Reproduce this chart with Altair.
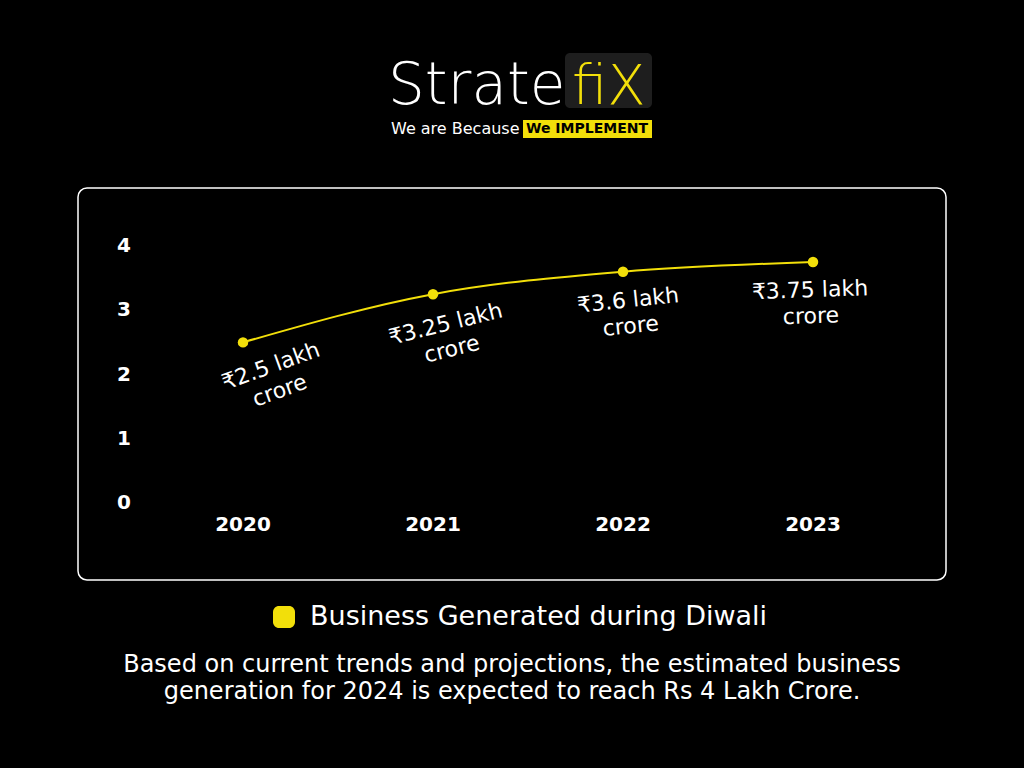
import altair as alt
import pandas as pd

years = [2020, 2021, 2022, 2023]
values = [2.5, 3.25, 3.6, 3.75]
labels = ["₹2.5 lakh\ncrore", "₹3.25 lakh\ncrore", "₹3.6 lakh\ncrore", "₹3.75 lakh\ncrore"]
y_ticks = [0, 1, 2, 3, 4]
series_name = "Business Generated during Diwali"
footer = ["Based on current trends and projections, the estimated business",
          "generation for 2024 is expected to reach Rs 4 Lakh Crore."]

YELLOW = "#f2df0a"
FONT = "DejaVu Sans"

df = pd.DataFrame({"year": years, "value": values, "label": labels})
ticks_df = pd.DataFrame({"value": y_ticks})
years_df = pd.DataFrame({"year": years})

xs = alt.Scale(domain=[2020, 2023], range=[243, 813], nice=False, zero=False)
ys = alt.Scale(domain=[0, 4], range=[503, 246], nice=False)
X = alt.X("year:Q", scale=xs, axis=None)
Y = alt.Y("value:Q", scale=ys, axis=None)

one = alt.Data(values=[{}])

frame = alt.Chart(one).mark_rect(fill=None, stroke="white", strokeWidth=1.5, cornerRadius=9).encode(
    x=alt.value(78), x2=alt.value(946), y=alt.value(188), y2=alt.value(580))

line = alt.Chart(df).mark_line(color=YELLOW, strokeWidth=2, interpolate="monotone").encode(x=X, y=Y)
pts = alt.Chart(df).mark_circle(color=YELLOW, opacity=1, size=110).encode(x=X, y=Y)

label_layers = []
angles = {2020: 340, 2021: 346, 2022: 354, 2023: 358}
offs = {2020: (18, 32), 2021: (5, 32), 2022: (2, 29), 2023: (-4, 28)}
for yr in years:
    label_layers.append(
        alt.Chart(df).transform_filter(alt.datum.year == yr).mark_text(
            font=FONT, fontSize=22, color="white", lineBreak="\n", lineHeight=26,
            angle=angles[yr], baseline="middle", align="center", dx=offs[yr][0], dy=offs[yr][1]
        ).encode(x=X, y=Y, text="label:N")
    )

ytick_text = alt.Chart(ticks_df).mark_text(
    font=FONT, fontSize=20, fontWeight="bold", color="white", align="center", baseline="middle"
).encode(x=alt.value(124), y=Y, text="value:N")

xtick_text = alt.Chart(years_df).mark_text(
    font=FONT, fontSize=20, fontWeight="bold", color="white", align="center", baseline="middle"
).encode(x=X, y=alt.value(525), text="year:N")

legend_sym = alt.Chart(one).mark_rect(fill=YELLOW, cornerRadius=6).encode(
    x=alt.value(273), x2=alt.value(295), y=alt.value(606), y2=alt.value(628))
legend_txt = alt.Chart(pd.DataFrame({"s": [series_name]})).mark_text(
    font=FONT, fontSize=27, color="white", align="left", baseline="middle"
).encode(x=alt.value(310), y=alt.value(617), text="s:N")

footer_txt = alt.Chart(pd.DataFrame({"s": ["\n".join(footer)]})).mark_text(
    font=FONT, fontSize=24, color="white", align="center", baseline="middle",
    lineBreak="\n", lineHeight=27
).encode(x=alt.value(512), y=alt.value(665), text="s:N")

# logo
logo_box = alt.Chart(one).mark_rect(fill="#1e1e1e", cornerRadius=5).encode(
    x=alt.value(565), x2=alt.value(652), y=alt.value(53), y2=alt.value(108))
logo_a = alt.Chart(pd.DataFrame({"s": ["Strate"]})).mark_text(
    font=FONT, fontSize=58, fontWeight=200, color="white", align="left", baseline="alphabetic"
).encode(x=alt.value(388), y=alt.value(104), text="s:N")
logo_b = alt.Chart(pd.DataFrame({"s": ["fiX"]})).mark_text(
    font=FONT, fontSize=56, fontWeight=200, color=YELLOW, align="left", baseline="alphabetic"
).encode(x=alt.value(572), y=alt.value(104), text="s:N")
tag_box = alt.Chart(one).mark_rect(fill=YELLOW).encode(
    x=alt.value(523), x2=alt.value(652), y=alt.value(120), y2=alt.value(138))
tag_a = alt.Chart(pd.DataFrame({"s": ["We are Because"]})).mark_text(
    font=FONT, fontSize=16, color="white", align="left", baseline="middle"
).encode(x=alt.value(391), y=alt.value(129), text="s:N")
tag_b = alt.Chart(pd.DataFrame({"s": ["We IMPLEMENT"]})).mark_text(
    font=FONT, fontSize=14, fontWeight="bold", color="black", align="left", baseline="middle"
).encode(x=alt.value(526), y=alt.value(129), text="s:N")

chart = alt.layer(
    frame, logo_box, logo_a, logo_b, tag_box, tag_a, tag_b,
    line, pts, *label_layers, ytick_text, xtick_text,
    legend_sym, legend_txt, footer_txt
).properties(
    width=1024, height=768, background="black", padding=0,
    autosize=alt.AutoSizeParams(type="none")
).configure_view(stroke=None)

chart.save("out.html", embed_options={"renderer": "svg", "actions": False})
